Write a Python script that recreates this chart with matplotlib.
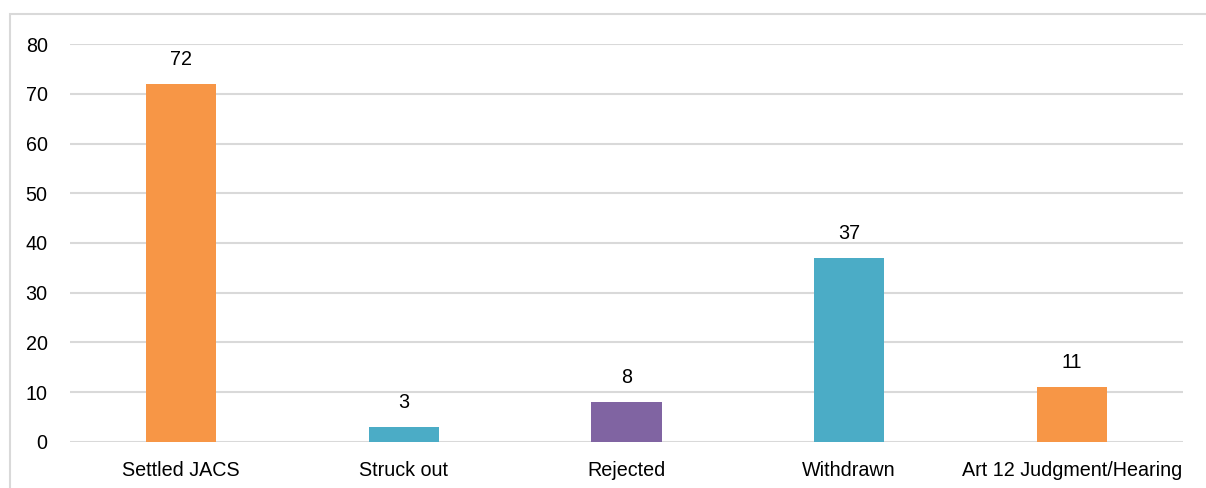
import matplotlib.pyplot as plt
from matplotlib.patches import Rectangle

categories = ["Settled JACS", "Struck out", "Rejected", "Withdrawn", "Art 12 Judgment/Hearing"]
counts = [72, 3, 8, 37, 11]
bar_colors = ["#F79646", "#4BACC6", "#8064A2", "#4BACC6", "#F79646"]
yticks = [0, 10, 20, 30, 40, 50, 60, 70, 80]

plt.rcParams['font.family'] = ['Liberation Sans', 'DejaVu Sans']

fig = plt.figure(figsize=(12.06, 4.88), dpi=100)
ax = fig.add_axes([0.058, 0.0943, 0.923, 0.8155])

x = list(range(len(categories)))
bars = ax.bar(x, counts, width=0.315, color=bar_colors, zorder=3)

# value labels above bars
for xi, v in zip(x, counts):
    ax.annotate(str(v), (xi, v), xytext=(0, 11), textcoords='offset points',
                ha='center', va='bottom', fontsize=14.2)

ax.set_xlim(-0.5, len(categories) - 0.5)
ax.set_ylim(0, 80)
ax.set_yticks(yticks)
ax.set_xticks(x)
ax.set_xticklabels(categories)
ax.yaxis.grid(True, color='#D9D9D9', linewidth=1.5, zorder=0)
ax.set_axisbelow(True)
for s in ax.spines.values():
    s.set_visible(False)
ax.tick_params(axis='both', length=0, labelsize=14.2)
ax.tick_params(axis='y', pad=16)
ax.tick_params(axis='x', pad=14)

# chart border, cropped at right and bottom
fig.patches.append(Rectangle((10 / 1206, -0.1), 1.2, 1.1 - 14 / 488,
                             transform=fig.transFigure, fill=False,
                             edgecolor='#D9D9D9', linewidth=1.5))

fig.savefig("out.png", dpi=100)
